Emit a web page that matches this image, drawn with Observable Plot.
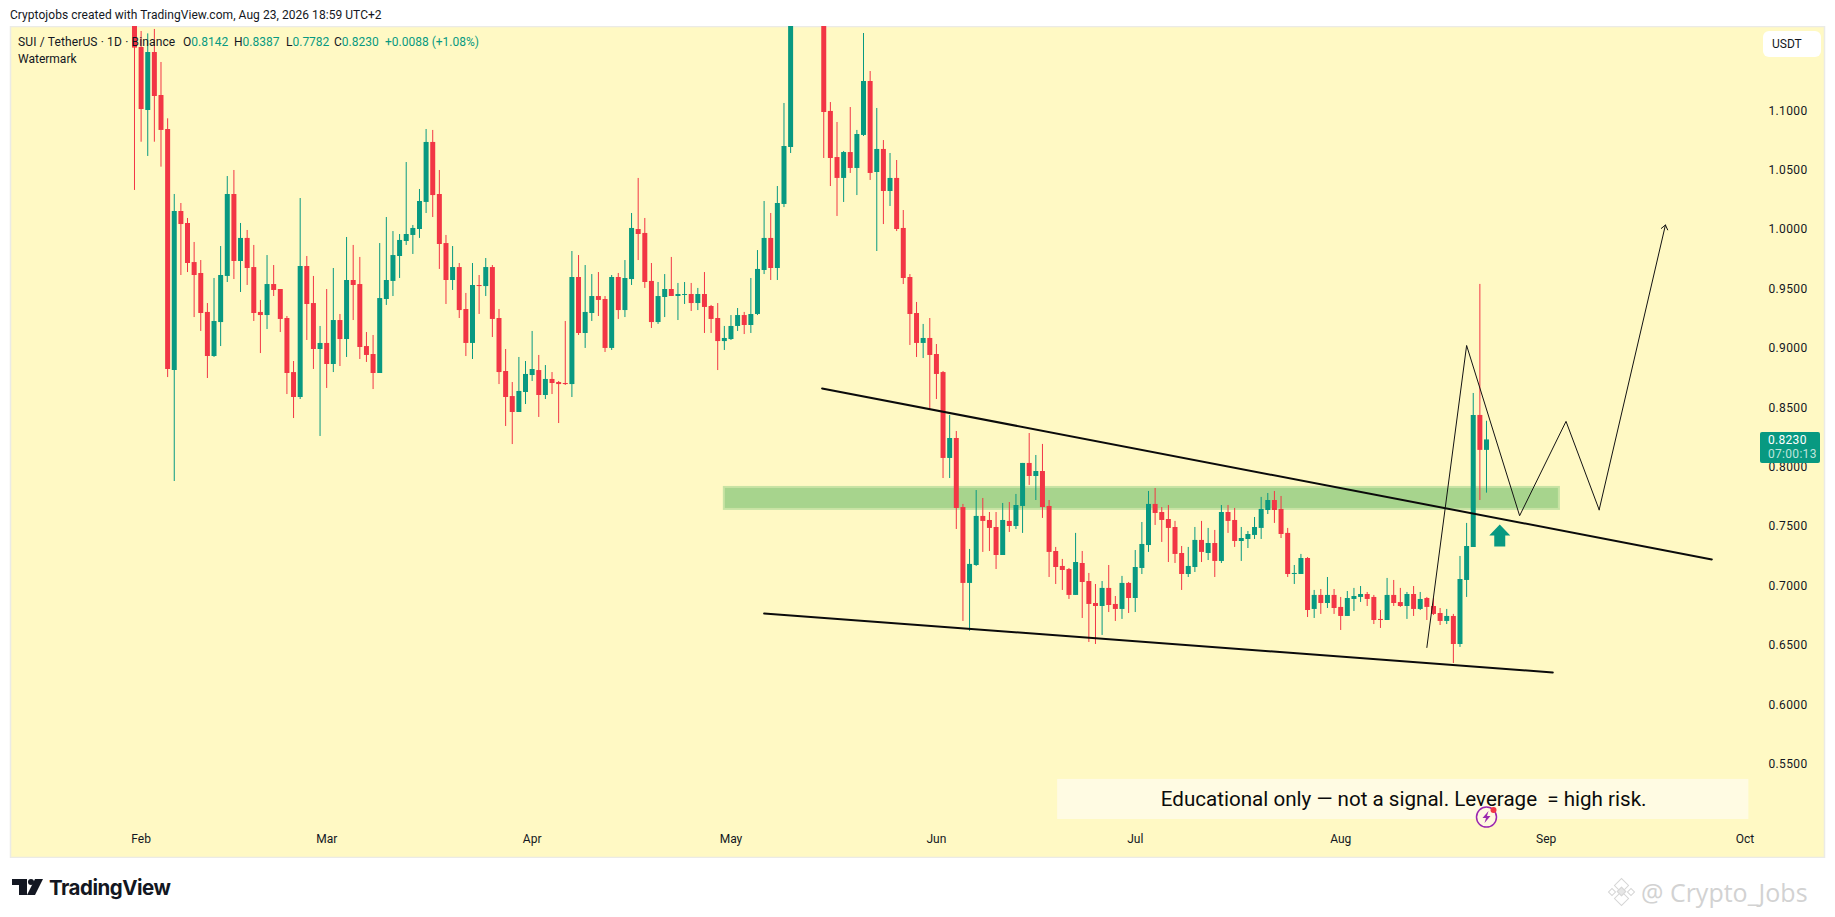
<!DOCTYPE html>
<html>
<head>
<meta charset="utf-8">
<script src="https://cdn.jsdelivr.net/npm/d3@7"></script>
<script src="https://cdn.jsdelivr.net/npm/@observablehq/plot@0.6"></script>
<style>
html,body{margin:0;padding:0;background:#fff;overflow:hidden}
#page{position:relative;width:1835px;height:917px;font-family:Roboto,"Liberation Sans",sans-serif;color:#131722}
#chart{position:absolute;left:0;top:26px}
#chart svg{display:block}
#chart svg [aria-label="y-axis tick label"] text{letter-spacing:.35px}
.t{position:absolute;white-space:pre;font-size:12px;line-height:14px}
.g{color:#089981}
#tag{position:absolute;left:1760px;top:432px;width:60px;height:31px;background:#089981;border-radius:2px;color:#fff;font-size:12px;line-height:14px;text-align:left;padding:1px 0 0 8px;box-sizing:border-box;letter-spacing:.3px}
#tag div+div{color:#bfe5dc}
#usdt{position:absolute;left:1763px;top:31px;width:58px;height:26px;background:#fff;border-radius:6px;font-size:12px;line-height:26px;text-align:left;padding-left:9px;box-sizing:border-box;color:#131722}
.logo{position:absolute;background:#131722}
.dia{position:absolute;transform:rotate(45deg);border:1.5px solid #d6d6d6;box-sizing:border-box}
</style>
</head>
<body>
<div id="page">
  <div class="t" id="title" style="left:10px;top:8px;letter-spacing:.05px">Cryptojobs created with TradingView.com, Aug 23, 2026 18:59 UTC+2</div>
  <div id="chart"></div>
  <div class="t" style="left:18px;top:35px;letter-spacing:.14px">SUI / TetherUS · 1D · Binance</div>
  <div class="t" style="left:18px;top:52px">Watermark</div>
  <div class="t" style="left:183px;top:35px">O<span class="g" id="vO"></span></div>
  <div class="t" style="left:234px;top:35px">H<span class="g" id="vH"></span></div>
  <div class="t" style="left:286px;top:35px">L<span class="g" id="vL"></span></div>
  <div class="t" style="left:334px;top:35px">C<span class="g" id="vC"></span></div>
  <div class="t g" style="left:385px;top:35px">+0.0088 (+1.08%)</div>
  <div id="usdt">USDT</div>
  <div id="tag"><div id="tagP"></div><div>07:00:13</div></div>
  <div class="logo" style="left:12px;top:879px;width:15px;height:6px"></div>
  <div class="logo" style="left:19px;top:879px;width:8px;height:16px"></div>
  <div class="logo" style="left:28px;top:879px;width:6px;height:6px;border-radius:50%"></div>
  <div class="logo" style="left:27px;top:879px;width:16px;height:16px;clip-path:polygon(50% 0,100% 0,50% 100%,0 100%)"></div>
  <div style="position:absolute;left:49px;top:875px;font:700 20.5px/26px Inter,Roboto,sans-serif;letter-spacing:-.5px;color:#131722">TradingView</div>
  <div class="dia" style="left:1616px;top:880px;width:11px;height:11px"></div>
  <div class="dia" style="left:1616px;top:893px;width:11px;height:11px"></div>
  <div class="dia" style="left:1609px;top:889px;width:6px;height:6px"></div>
  <div class="dia" style="left:1628px;top:889px;width:6px;height:6px"></div>
  <div class="dia" style="left:1618px;top:888px;width:7px;height:7px;background:#e6e6e6"></div>
  <div style="position:absolute;left:1641px;top:876px;font:400 25px/32px 'Open Sans',sans-serif;color:#d2d2d2">@ Crypto_Jobs</div>
</div>
<script>
const firstDay = "2026-01-31";
const opens = [
1.20,1.1533,1.1003,1.1491,1.1129,1.0843,.8814,1.0153,1.0052,.9723,
.9631,.9303,.8932,.9218,.9606,1.0296,.9732,.9926,.9681,.9303,
.9277,.9538,.9496,.9252,.8797,.8587,.9690,.9378,.8991,.9042,
.8865,.9235,.9075,.9572,.9538,.9016,.8949,.8789,.9412,.9564,
.9774,.9900,.9951,1.0001,1.0229,1.0734,1.0296,.9883,.9572,.9681,
.9328,.9042,.9530,.9521,.9681,.9252,.8806,.8595,.8461,.8629,
.8772,.8814,.8604,.8739,.8713,.8705,.8696,.9597,.9126,.9294,
.9437,.9412,.9000,.9597,.9319,.9580,1.0001,.9968,.9564,.9218,
.9429,.9496,.9437,.9446,.9454,.9378,.9454,.9353,.9252,.9058,
.9075,.9185,.9277,.9193,.9286,.9656,.9926,.9673,1.0212,1.0692,
null,null,null,null,1.20,1.0995,1.0607,1.0431,1.0649,1.0515,
1.0793,1.1247,1.0481,1.0675,1.0321,1.0431,1.0010,.9597,.9294,.9042,
.9084,.8949,.8797,.8074,.8242,.7661,.7022,.7173,.7586,.7552,
.7493,.7257,.7544,.7501,.7670,.8032,.7922,.7964,.7670,.7291,
.7165,.7139,.6921,.7190,.7038,.6853,.6828,.6980,.6845,.6803,
.7022,.6895,.7148,.7341,.7687,.7619,.7560,.7493,.7274,.7097,
.7156,.7384,.7274,.7358,.7207,.7619,.7552,.7375,.7392,.7426,
.7485,.7636,.7720,.7645,.7443,.7097,.7097,.7232,.6803,.6921,
.6853,.6921,.6820,.6744,.6887,.6904,.6929,.6904,.6719,.6710,
.6921,.6861,.6828,.6929,.6803,.6895,.6828,.6769,.6702,.6744,
.6508,.7047,.7325,.8436,.8142];
const highs = [
1.22,1.1668,1.1648,1.1685,1.1407,1.0933,1.0296,1.0220,1.0094,.9892,
.9740,.9378,.9589,.9858,1.0447,1.0498,1.0052,.9993,.9867,.9404,
.9782,.9698,.9496,.9269,.8890,1.0262,.9774,.9606,.9185,.9496,
.9673,.9286,.9934,.9867,.9766,.9134,.9109,.9883,1.0102,.9984,
.9959,1.0565,1.0035,1.0338,1.0843,1.0835,1.0498,.9951,.9858,.9715,
.9463,.9715,.9614,.9757,.9698,.9328,.8991,.8713,.8924,.8890,
.9143,.8941,.8856,.8797,.8722,.9227,.9816,.9782,.9698,.9622,
.9639,.9437,.9614,.9631,.9740,1.0136,1.0431,1.0094,.9715,.9555,
.9622,.9766,.9547,.9555,.9547,.9505,.9639,.9362,.9378,.9185,
.9277,.9336,.9303,.9589,.9824,1.0237,1.0136,1.0363,1.1062,1.21,
null,null,null,null,1.21,1.1070,1.0902,1.0658,1.1028,1.0835,
1.1651,1.1331,1.1020,1.0750,1.0641,1.0582,1.0161,.9622,.9387,.9202,
.9252,.9033,.8806,.8436,.8301,.7687,.7308,.7804,.7737,.7619,
.7619,.7695,.7703,.7771,.8032,.8284,.8099,.8192,.7720,.7325,
.7224,.7148,.7443,.7291,.7106,.7013,.7038,.7173,.6912,.7081,
.7030,.7299,.7535,.7796,.7821,.7661,.7678,.7544,.7333,.7325,
.7493,.7544,.7485,.7468,.7678,.7678,.7653,.7493,.7459,.7577,
.7746,.7779,.7796,.7754,.7485,.7173,.7266,.7240,.6963,.6971,
.7072,.6971,.6904,.6954,.6980,.6996,.6946,.6921,.6794,.7064,
.7047,.6980,.6946,.6996,.6946,.6904,.6895,.6811,.6803,.6761,
.7249,.7527,.8621,.9539,.8387];
const lows = [
1.0330,1.0736,1.0616,1.0736,1.0526,.8755,.7880,.9614,.9639,.9260,
.9143,.8747,.8924,.9016,.9555,.9580,.9471,.9530,.9227,.8957,
.9159,.9437,.9134,.8612,.8410,.8570,.9067,.8823,.8259,.8663,
.8797,.8848,.8924,.9235,.8907,.8882,.8654,.8789,.9362,.9437,
.9589,.9867,.9791,.9926,1.0136,1.0102,.9665,.9370,.9488,.9252,
.8932,.8907,.9286,.9437,.9092,.8696,.8343,.8191,.8461,.8528,
.8722,.8419,.8570,.8612,.8368,.8688,.8587,.9109,.9000,.9227,
.9269,.8966,.8983,.9244,.9260,.9530,.9740,.9505,.9168,.9202,
.9260,.9437,.9235,.9370,.9311,.9319,.9126,.9126,.8814,.8983,
.9067,.9143,.9117,.9126,.9277,.9622,.9572,.9572,1.0186,1.0641,
null,null,null,null,1.0599,1.0363,1.0111,1.0229,1.0473,1.0287,
1.0784,1.0414,.9816,1.0043,1.0195,.9984,.9538,.9025,.8924,.8915,
.8478,.8570,.7905,.7905,.7476,.6702,.6618,.7165,.7283,.7291,
.7139,.7257,.7451,.7476,.7443,.7847,.7720,.7569,.7072,.7013,
.6963,.6887,.6921,.6727,.6525,.6508,.6584,.6777,.6702,.6719,
.6769,.6777,.7097,.7283,.7510,.7367,.7198,.7190,.6963,.7072,
.7114,.7198,.7215,.7072,.7190,.7443,.7325,.7207,.7316,.7392,
.7392,.7602,.7527,.7400,.7072,.7013,.7097,.6735,.6727,.6761,
.6811,.6761,.6626,.6744,.6786,.6862,.6828,.6676,.6643,.6710,
.6828,.6820,.6719,.6744,.6794,.6710,.6752,.6668,.6676,.6348,
.6483,.6904,.7325,.7720,.7782];
const closes = [
1.1528,1.1011,1.1491,1.1121,1.0835,.8823,1.0153,1.0043,.9715,.9614,
.9294,.8932,.9227,.9614,1.0296,.9732,.9926,.9673,.9294,.9277,
.9538,.9488,.9244,.8789,.8587,.9690,.9370,.8991,.9042,.8865,
.9235,.9075,.9572,.9530,.9008,.8941,.8789,.9420,.9572,.9782,
.9909,.9959,1.0010,1.0237,1.0734,1.0287,.9875,.9572,.9681,.9319,
.9042,.9530,.9521,.9681,.9244,.8797,.8587,.8461,.8638,.8781,
.8823,.8604,.8739,.8705,.8696,.8696,.9597,.9126,.9303,.9437,
.9404,.9000,.9597,.9319,.9589,1.0010,.9959,.9555,.9218,.9437,
.9496,.9437,.9454,.9454,.9378,.9454,.9345,.9244,.9058,.9084,
.9185,.9277,.9193,.9286,.9665,.9926,.9673,1.0220,1.0700,1.20,
null,null,null,null,1.0986,1.0599,1.0431,1.0649,1.0515,1.0801,
1.1247,1.0473,1.0675,1.0321,1.0431,1.0001,.9589,.9286,.9042,.9084,
.8941,.8781,.8074,.8242,.7653,.7022,.7182,.7586,.7544,.7485,
.7257,.7552,.7501,.7678,.8032,.7922,.7964,.7661,.7283,.7156,
.7131,.6921,.7198,.7030,.6845,.6828,.6980,.6836,.6803,.7022,
.6895,.7156,.7350,.7687,.7611,.7552,.7485,.7266,.7097,.7165,
.7384,.7283,.7358,.7207,.7619,.7544,.7375,.7400,.7434,.7493,
.7645,.7720,.7636,.7434,.7097,.7106,.7232,.6794,.6921,.6853,
.6921,.6811,.6744,.6895,.6912,.6929,.6887,.6710,.6710,.6921,
.6853,.6828,.6929,.6803,.6887,.6820,.6761,.6702,.6744,.6508,
.7055,.7333,.8436,.8142,.8230];

const priceTicks = [0.55,0.60,0.65,0.70,0.75,0.80,0.85,0.90,0.95,1.00,1.05,1.10];
const monthTicks = ["2026-02-01","2026-03-01","2026-04-01","2026-05-01","2026-06-01","2026-07-01","2026-08-01","2026-09-01","2026-10-01"];

const upperTrendDates = ["2026-05-14T18:00Z","2026-09-26"];
const upperTrendPrices = [0.8663,0.7224];
const lowerTrendDates = ["2026-05-06","2026-09-02"];
const lowerTrendPrices = [0.6769,0.6273];
const pathDates = ["2026-08-14","2026-08-20","2026-08-28","2026-09-04","2026-09-09","2026-09-19"];
const pathPrices = [0.6483,0.9025,0.7592,0.8386,0.7642,1.0039];
const zoneDates = ["2026-04-30","2026-09-03"];
const zonePrices = [0.7645,0.7830];
const noteDates = ["2026-06-19T07:00Z","2026-10-01T14:00Z"];
const notePrices = [0.5035,0.5372];
const noteText = "Educational only — not a signal. Leverage  = high risk.";
const noteAnchor = {date:"2026-08-10T12:00Z", price:0.5205};
const arrowAt = {date:"2026-08-25", price:0.7426};
const eventAt = {date:"2026-08-23", price:0.5055};

const up = "#089981", down = "#F23645";
const D = s => new Date(s);
const start = D(firstDay);
const candles = opens.map((o,i)=>({
  date:d3.utcDay.offset(start,i), open:o, high:highs[i], low:lows[i], close:closes[i]
})).filter(c=>c.open!=null).map(c=>({...c, dir:c.close>=c.open?"up":"down"}));

const pts = (ds,ps)=>ds.map((d,i)=>({date:D(d),price:ps[i]}));
const pathPts = pts(pathDates,pathPrices);
const lastSeg = pathPts.slice(-2);

const upArrowSymbol = {draw(c){
  c.moveTo(0,-11);c.lineTo(10.5,0);c.lineTo(5.5,0);c.lineTo(5.5,11);c.lineTo(-5.5,11);c.lineTo(-5.5,0);c.lineTo(-10.5,0);c.closePath();
}};
const boltSymbol = {draw(c){
  c.moveTo(2,-6);c.lineTo(-4,1);c.lineTo(-.5,1);c.lineTo(-2,6);c.lineTo(4,-1);c.lineTo(.5,-1);c.closePath();
}};

const plot = Plot.plot({
  width:1835, height:832,
  marginLeft:10, marginRight:11, marginTop:0, marginBottom:1,
  style:{background:"transparent",fontFamily:"Roboto,'Liberation Sans',sans-serif",fontSize:"12px",color:"#131722"},
  x:{type:"utc",domain:[D("2026-01-12T07:00Z"),D("2026-10-13T00:00Z")]},
  y:{domain:[0.4715,1.1710]},
  color:{domain:["up","down"],range:[up,down]},
  marks:[
    Plot.frame({fill:"#FFF9C4",stroke:"#ebebe6",strokeWidth:1.5}),
    Plot.rect([{}],{x1:D(zoneDates[0]),x2:D(zoneDates[1]),y1:zonePrices[0],y2:zonePrices[1],fill:"#A7D48D",stroke:"#C8E3A4",strokeWidth:2}),
    Plot.ruleX(candles,{x:"date",y1:"low",y2:"high",stroke:"dir",strokeWidth:1,clip:true}),
    Plot.ruleX(candles,{x:"date",y1:"open",y2:"close",stroke:"dir",strokeWidth:5,clip:true}),
    Plot.line(pts(upperTrendDates,upperTrendPrices),{x:"date",y:"price",stroke:"#0b0b0b",strokeWidth:2}),
    Plot.line(pts(lowerTrendDates,lowerTrendPrices),{x:"date",y:"price",stroke:"#0b0b0b",strokeWidth:2}),
    Plot.line(pathPts.slice(0,-1),{x:"date",y:"price",stroke:"#131313",strokeWidth:1}),
    Plot.arrow([{a:lastSeg[0],b:lastSeg[1]}],{x1:d=>d.a.date,y1:d=>d.a.price,x2:d=>d.b.date,y2:d=>d.b.price,stroke:"#131313",strokeWidth:1,headLength:8,headAngle:75}),
    Plot.dot([arrowAt],{x:d=>D(d.date),y:"price",symbol:upArrowSymbol,r:10,fill:up,stroke:"none"}),
    Plot.rect([{}],{x1:D(noteDates[0]),x2:D(noteDates[1]),y1:notePrices[0],y2:notePrices[1],fill:"#FFFBE3"}),
    Plot.text([noteAnchor],{x:d=>D(d.date),y:"price",text:()=>noteText,fontSize:20.6,fontWeight:400,fill:"#0b0b0b",fontFamily:"Roboto,sans-serif"}),
    Plot.dot([eventAt],{x:d=>D(d.date),y:"price",r:10,fill:"#FFF8E0",stroke:"#9C27B0",strokeWidth:1.5}),
    Plot.dot([eventAt],{x:d=>D(d.date),y:"price",symbol:boltSymbol,r:6,fill:"#9C27B0",stroke:"none"}),
    Plot.dot([eventAt],{x:d=>D(d.date),y:"price",r:3,dx:7,dy:-7,fill:down,stroke:"none"}),
    Plot.axisY({anchor:"right",ticks:priceTicks,tickFormat:d=>d.toFixed(4),tickSize:0,tickPadding:-56,label:null,fontSize:12}),
    Plot.axisX({anchor:"bottom",ticks:monthTicks.map(D),tickFormat:d3.utcFormat("%b"),tickSize:0,tickPadding:-23,label:null,fontSize:12})
  ]
});
document.getElementById("chart").appendChild(plot);
const n = opens.length-1;
document.getElementById("vO").textContent = opens[n].toFixed(4);
document.getElementById("vH").textContent = highs[n].toFixed(4);
document.getElementById("vL").textContent = lows[n].toFixed(4);
document.getElementById("vC").textContent = closes[n].toFixed(4);
document.getElementById("tagP").textContent = closes[n].toFixed(4);
</script>
</body>
</html>
